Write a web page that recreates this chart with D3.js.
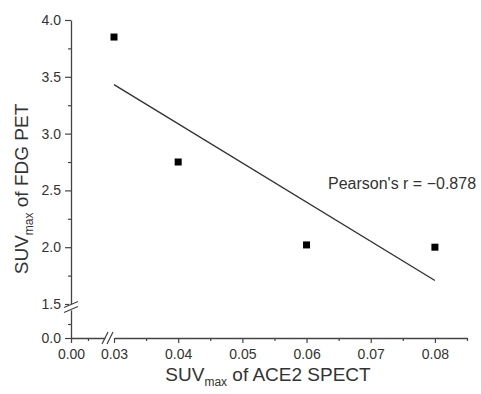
<!DOCTYPE html>
<html>
<head>
<meta charset="utf-8">
<script src="https://cdnjs.cloudflare.com/ajax/libs/d3/7.8.5/d3.min.js"></script>
<style>
  body { margin: 0; background: #fff; }
  text { font-family: "Liberation Sans", Arial, sans-serif; fill: #333; }
</style>
</head>
<body>
<div id="chart"></div>
<script>
// data
var ace2 = [0.03, 0.04, 0.06, 0.08];
var fdg = [3.85, 2.75, 2.02, 2.00];
var xTicksUpper = [0.03, 0.04, 0.05, 0.06, 0.07, 0.08];
var xMinorUpper = [0.035, 0.045, 0.055, 0.065, 0.075, 0.085];
var xTicksLower = [0.00];
var xMinorLower = [0.005];
var yTicksUpper = [1.5, 2.0, 2.5, 3.0, 3.5, 4.0];
var yMinorUpper = [1.75, 2.25, 2.75, 3.25, 3.75];
var yTicksLower = [0.0];
var yMinorLower = [0.25];
var pearsonLabel = "Pearson's r = \u22120.878";

var svgWidth = 481;
var svgHeight = 394;

var svg = d3.select("#chart")
    .append("svg")
    .attr("width", svgWidth)
    .attr("height", svgHeight);

// broken axes: a short lower segment and the main upper segment
var xLower = d3.scaleLinear().domain([0, 0.01]).range([71, 105]);
var xScale = d3.scaleLinear().domain([0.03, 0.085]).range([114, 467]);
var yLower = d3.scaleLinear().domain([0, 0.5]).range([338, 310]);
var yScale = d3.scaleLinear().domain([1.5, 4.0]).range([304, 20]);

var axisColor = "#444";
var originY = 338;
var originX = 71;

function styleAxis(g) {
    g.selectAll("path").attr("stroke", axisColor).attr("stroke-width", 1.3);
    g.selectAll("line").attr("stroke", axisColor).attr("stroke-width", 1.2);
    g.selectAll("text").attr("fill", "#333").style("font-size", "14px")
        .style("font-family", "Liberation Sans, Arial, sans-serif");
}

// x axis, both segments
[[xLower, xTicksLower, xMinorLower], [xScale, xTicksUpper, xMinorUpper]].forEach(function(s) {
    svg.append("g")
        .attr("transform", `translate(0, ${originY})`)
        .call(d3.axisBottom(s[0]).tickValues(s[1]).tickSize(5).tickSizeOuter(0)
            .tickPadding(6).tickFormat(d3.format(".2f")))
        .call(styleAxis);
    svg.append("g")
        .attr("transform", `translate(0, ${originY})`)
        .call(d3.axisBottom(s[0]).tickValues(s[2]).tickSize(3).tickSizeOuter(0).tickFormat(""))
        .call(styleAxis)
        .select("path").remove();
});

// y axis, both segments
[[yLower, yTicksLower, yMinorLower], [yScale, yTicksUpper, yMinorUpper]].forEach(function(s) {
    svg.append("g")
        .attr("transform", `translate(${originX}, 0)`)
        .call(d3.axisLeft(s[0]).tickValues(s[1]).tickSize(6).tickSizeOuter(0)
            .tickPadding(4).tickFormat(d3.format(".1f")))
        .call(styleAxis);
    svg.append("g")
        .attr("transform", `translate(${originX}, 0)`)
        .call(d3.axisLeft(s[0]).tickValues(s[2]).tickSize(3).tickSizeOuter(0).tickFormat(""))
        .call(styleAxis)
        .select("path").remove();
});

// break marks
var yBreak = (yScale(1.5) + yLower(0.5)) / 2;
var xBreak = (xLower(0.01) + xScale(0.03)) / 2 - 2;
svg.append("rect").attr("x", originX - 2).attr("y", yBreak - 3).attr("width", 4).attr("height", 6).attr("fill", "#fff");
svg.append("rect").attr("x", xBreak - 2).attr("y", originY - 2).attr("width", 4).attr("height", 4).attr("fill", "#fff");
[-2.5, 2.5].forEach(function(o) {
    svg.append("line")
        .attr("x1", originX - 7).attr("y1", yBreak + o + 3)
        .attr("x2", originX + 7).attr("y2", yBreak + o - 3)
        .attr("stroke", axisColor).attr("stroke-width", 1.3);
    svg.append("line")
        .attr("x1", xBreak + o - 3).attr("y1", originY + 6)
        .attr("x2", xBreak + o + 3).attr("y2", originY - 6)
        .attr("stroke", axisColor).attr("stroke-width", 1.3);
});

// linear fit line
var mx = d3.mean(ace2), my = d3.mean(fdg);
var sxy = d3.sum(ace2, (d, i) => (d - mx) * (fdg[i] - my));
var sxx = d3.sum(ace2, d => (d - mx) * (d - mx));
var slope = sxy / sxx;
var x0 = d3.min(ace2), x1 = d3.max(ace2);
svg.append("line")
    .attr("x1", xScale(x0)).attr("y1", yScale(my + slope * (x0 - mx)))
    .attr("x2", xScale(x1)).attr("y2", yScale(my + slope * (x1 - mx)))
    .attr("stroke", "#333").attr("stroke-width", 1.4);

// square markers
svg.selectAll(".pt")
    .data(ace2)
    .enter()
    .append("rect")
    .attr("class", "pt")
    .attr("x", d => xScale(d) - 3.5)
    .attr("y", (d, i) => yScale(fdg[i]) - 3.5)
    .attr("width", 7)
    .attr("height", 7)
    .attr("fill", "#000");

// annotation
svg.append("text")
    .attr("x", 328)
    .attr("y", 189)
    .style("font-size", "16px")
    .text(pearsonLabel);

// axis titles
var xt = svg.append("text")
    .attr("x", 268)
    .attr("y", 381)
    .attr("text-anchor", "middle")
    .style("font-size", "19px");
xt.append("tspan").text("SUV");
xt.append("tspan").attr("dy", 5).style("font-size", "12px").text("max");
xt.append("tspan").attr("dy", -5).text(" of ACE2 SPECT");

var yt = svg.append("text")
    .attr("transform", "translate(28, 189) rotate(-90)")
    .attr("text-anchor", "middle")
    .style("font-size", "19px");
yt.append("tspan").text("SUV");
yt.append("tspan").attr("dy", 5).style("font-size", "12px").text("max");
yt.append("tspan").attr("dy", -5).text(" of FDG PET");
</script>
</body>
</html>
